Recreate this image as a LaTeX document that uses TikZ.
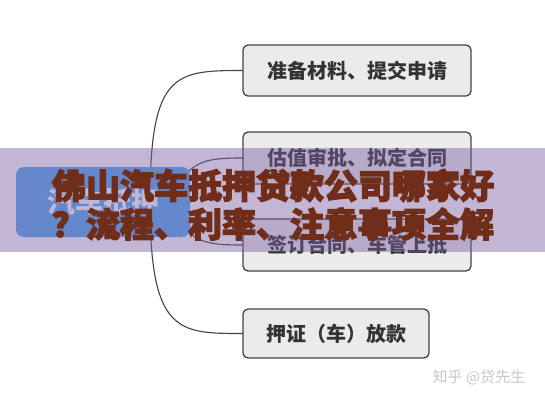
\documentclass[tikz,border=0pt]{standalone}
\usepackage{fontspec}
\newfontfamily\cjk{Noto Sans CJK SC}
\newfontfamily\titlefont{Noto Sans CJK SC}[FakeBold=3.5]
\definecolor{boxfill}{RGB}{235,235,235}
\definecolor{boxline}{RGB}{68,68,68}
\definecolor{boxtext}{RGB}{51,51,51}
\definecolor{rootblue}{RGB}{84,170,240}
\definecolor{banner}{RGB}{120,95,160}
\definecolor{titlebrown}{RGB}{112,46,26}
\definecolor{wm}{RGB}{200,200,200}
\tikzset{
  stepbox/.style={draw=boxline, line width=1.3pt, fill=boxfill, rounded corners=5pt,
    font=\cjk\bfseries\fontsize{20}{24}\selectfont, text=boxtext, inner sep=0pt},
  link/.style={draw=boxline, line width=1.1pt},
  rootbox/.style={fill=rootblue, rounded corners=8pt, inner sep=0pt,
    font=\cjk\bfseries\fontsize{28}{32}\selectfont, text=white},
  titletext/.style={font=\titlefont\bfseries\fontsize{34}{38}\selectfont, text=titlebrown, inner sep=0pt}
}
\begin{document}
\begin{tikzpicture}[x=1pt,y=-1pt]
\useasboundingbox (0,0) rectangle (545,400);
\fill[white] (0,0) rectangle (545,400);
% box positions (named, drawn later over the connectors)
\coordinate (c1) at (357,70.5);
\coordinate (c2) at (357,158);
\coordinate (c3) at (357,245);
\coordinate (c4) at (336,333.5);
\coordinate (hub) at (150,202);
\coordinate (hubi) at (170,200);
\coordinate (w1) at (243,70.5);
\coordinate (w2) at (243,158);
\coordinate (w3) at (243,245);
\coordinate (w4) at (243,333.5);
% connectors
\draw[link] (hub) .. controls (150,72) and (175,70.5) .. (w1);
\draw[link] (hubi) .. controls (188,160) and (205,158) .. (w2);
\draw[link] (hubi) .. controls (185,243) and (205,245) .. (w3);
\draw[link] (hub) .. controls (150,333.5) and (178,333.5) .. (w4);
% boxes
\node[stepbox, minimum width=228pt, minimum height=51pt] (b1) at (c1) {准备材料、提交申请};
\node[stepbox, minimum width=228pt, minimum height=52pt] (b2) at (c2) {估值审批、拟定合同};
\node[stepbox, minimum width=228pt, minimum height=52pt] (b3) at (c3) {签订合同、车管上抵};
\node[stepbox, minimum width=186pt, minimum height=49pt] (b4) at (c4) {押证（车）放款};
% root
\node[rootbox, minimum width=174pt, minimum height=70pt] (root) at (103,202) {汽车抵押};
% banner
\fill[banner, opacity=0.45] (0,148) rectangle (545,251.5);
\node[titletext] (t1) at (273,185.5) {佛山汽车抵押贷款公司哪家好};
\node[titletext] (t2) at (273,224) {？流程、利率、注意事项全解};
% watermark
\node[font=\cjk\fontsize{15}{18}\selectfont, text=wm, inner sep=0pt] (wmk) at (479,377) {知乎 @贷先生};
\end{tikzpicture}
\end{document}
